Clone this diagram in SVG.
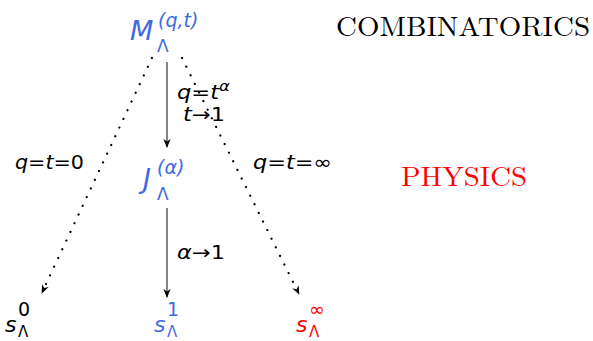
<svg xmlns="http://www.w3.org/2000/svg" width="593" height="341" viewBox="0 0 593 341">
<style>
.m{font-family:"DejaVu Sans",sans-serif;font-style:italic}
.u{font-family:"DejaVu Sans",sans-serif;font-style:normal}
.blue{fill:#4169E1}
.red{fill:#FF0000}
.blk{fill:#000}
.lbl{font-family:"DejaVu Sans",sans-serif;font-size:19px;fill:#000}
.serif{font-family:"Latin Modern Roman","Liberation Serif",serif;font-size:27px}
.solid{stroke:#444;stroke-width:1.3;fill:none}
.dot{stroke:#000;stroke-width:2.2;fill:none;stroke-dasharray:0.1 9.5;stroke-linecap:round}
</style>
<defs>
<marker id="ah" viewBox="0 0 10 10" refX="9" refY="5" markerWidth="9" markerHeight="9" orient="auto" markerUnits="userSpaceOnUse">
<path d="M0,1 L10,5 L0,9 L3,5 Z" fill="#000"/>
</marker>
</defs>
<g id="connectors">
<line class="solid" x1="167" y1="62" x2="167" y2="147" marker-end="url(#ah)"/>
<line class="solid" x1="167" y1="208" x2="167" y2="297" marker-end="url(#ah)"/>
<line class="dot" x1="152" y1="58" x2="46" y2="284"/>
<line x1="47" y1="282" x2="42" y2="293" stroke="none" marker-end="url(#ah)"/>
<line class="dot" x1="182" y1="58" x2="294" y2="284"/>
<line x1="293" y1="282" x2="299" y2="294" stroke="none" marker-end="url(#ah)"/>
<text class="lbl" x="177" y="99" textLength="53" lengthAdjust="spacingAndGlyphs"><tspan class="m">q</tspan>=<tspan class="m">t</tspan><tspan class="m" font-size="14" dy="-8">α</tspan></text>
<text class="lbl" x="183" y="121" textLength="42" lengthAdjust="spacingAndGlyphs"><tspan class="m">t</tspan>→1</text>
<text class="lbl" x="177" y="259" textLength="48" lengthAdjust="spacingAndGlyphs"><tspan class="m">α</tspan>→1</text>
<text class="lbl" x="15" y="169" textLength="69" lengthAdjust="spacingAndGlyphs"><tspan class="m">q</tspan>=<tspan class="m">t</tspan>=0</text>
<text class="lbl" x="253" y="169" textLength="79" lengthAdjust="spacingAndGlyphs"><tspan class="m">q</tspan>=<tspan class="m">t</tspan>=∞</text>
</g>
<g id="M" class="blue">
<text class="m" x="130" y="40" font-size="27">M</text>
<text class="m" x="158" y="27" font-size="19">(q,t)</text>
<text class="u" x="157" y="52" font-size="17">Λ</text>
</g>
<g id="J" class="blue">
<text class="m" x="143" y="188" font-size="27">J</text>
<text class="m" x="157" y="174" font-size="19">(α)</text>
<text class="u" x="157" y="200" font-size="17">Λ</text>
</g>
<g id="s0" class="blk">
<text class="m" x="5" y="332" font-size="22">s</text>
<text class="u" x="18" y="316" font-size="19">0</text>
<text class="u" x="18" y="337" font-size="15">Λ</text>
</g>
<g id="s1" class="blue">
<text class="m" x="154" y="332" font-size="22">s</text>
<text class="u" x="167" y="316" font-size="19">1</text>
<text class="u" x="167" y="337" font-size="15">Λ</text>
</g>
<g id="sinf" class="red">
<text class="m" x="296" y="332" font-size="22">s</text>
<text class="u" x="309" y="316" font-size="19">∞</text>
<text class="u" x="309" y="337" font-size="15">Λ</text>
</g>
<g id="combinatorics"><text class="serif" x="336" y="36" fill="#000" textLength="254" lengthAdjust="spacingAndGlyphs">COMBINATORICS</text></g>
<g id="physics"><text class="serif" x="401" y="186" fill="#FF0000" textLength="126" lengthAdjust="spacingAndGlyphs">PHYSICS</text></g>
</svg>
